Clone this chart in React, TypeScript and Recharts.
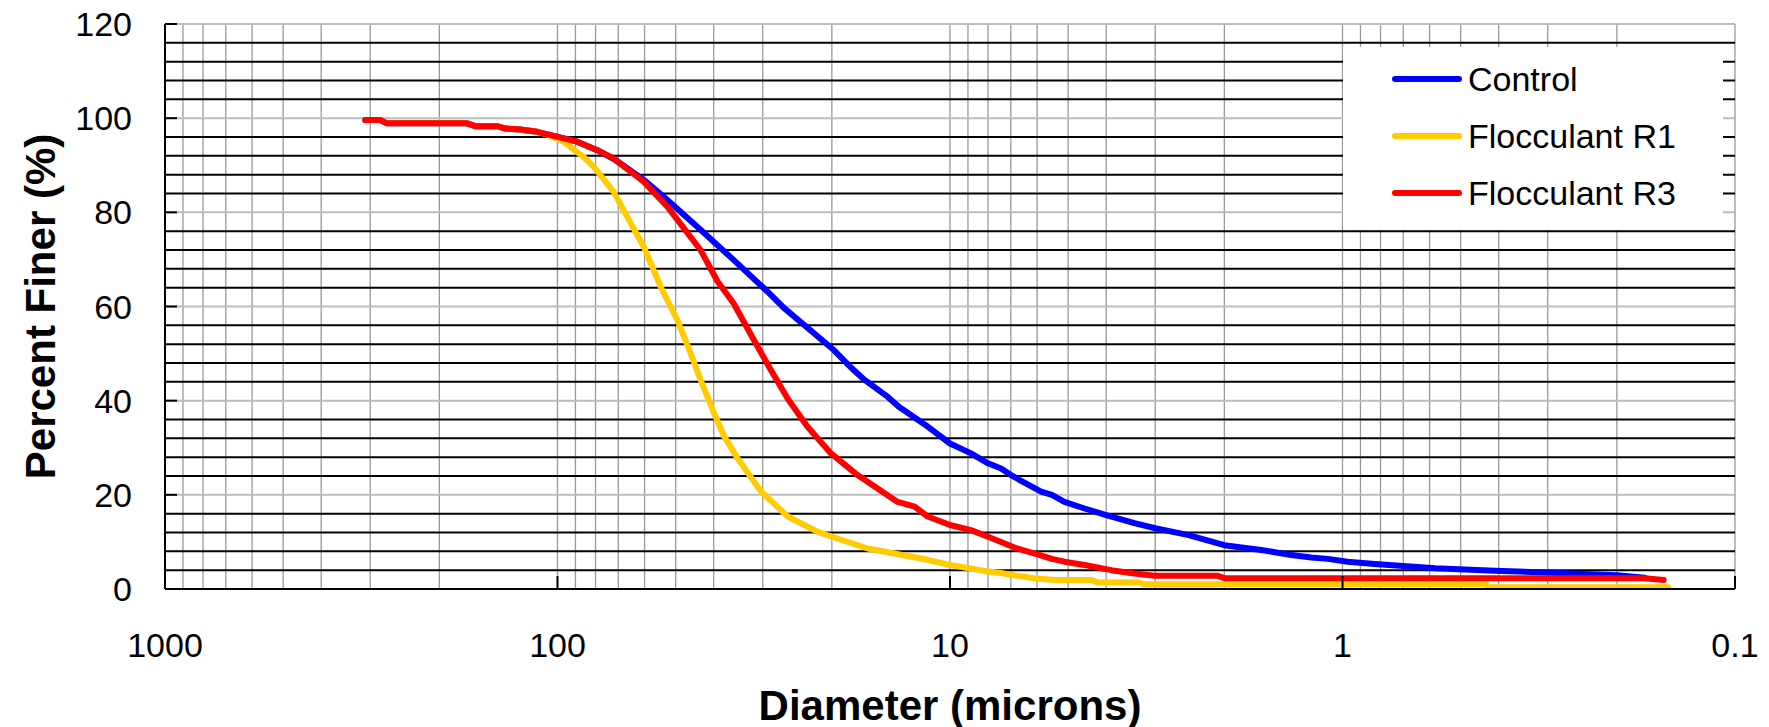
import { LineChart, Line, XAxis, YAxis, ReferenceLine, Legend } from "recharts";

const FONT = '"Liberation Sans", Arial, sans-serif';

const xTicks = [1000, 100, 10, 1, 0.1];
const yTicks = [0, 20, 40, 60, 80, 100, 120];
const decades = [100, 10, 1, 0.1];
const steps = [1, 2, 3, 4, 5, 6, 7, 8, 9];
const minorFiner = [4, 8, 12, 16, 24, 28, 32, 36, 44, 48, 52, 56, 64, 68, 72, 76, 84, 88, 92, 96, 104, 108, 112, 116];
const majorFiner = [20, 40, 60, 80, 100, 120];

const controlDiameter = [309, 283, 272, 170, 162, 142.5, 135.7, 124.3, 112.7, 104.2, 96.4, 89.1, 79.2, 71.1, 60.3, 53.6, 43.2, 35.6, 29.2, 26.5, 19.8, 17.6, 16.5, 14.4, 13.5, 11.4, 10, 8.84, 8.0, 7.41, 6.99, 6.66, 5.86, 5.5, 5.11, 4.54, 4.0, 3.39, 3.0, 2.48, 2.0, 1.61, 1.35, 1.2, 1.09, 0.97, 0.827, 0.7, 0.58, 0.409, 0.305, 0.2, 0.17];
const controlFiner = [99.6, 99.6, 98.9, 98.9, 98.3, 98.3, 97.8, 97.6, 97.1, 96.4, 95.7, 95.0, 93.2, 91.1, 86.9, 83.3, 76.3, 69.9, 63.2, 59.7, 50.8, 46.5, 44.4, 40.8, 38.7, 34.5, 30.9, 28.8, 26.7, 25.6, 24.2, 23.2, 20.7, 20.0, 18.5, 17.1, 15.7, 14.0, 12.9, 11.5, 9.3, 8.3, 7.2, 6.7, 6.4, 5.8, 5.3, 4.9, 4.4, 3.9, 3.5, 2.9, 2.4];

const r1Diameter = [309, 283, 272, 170, 162, 142.5, 135.7, 124.3, 112.7, 106, 96.4, 91.7, 85.9, 80.9, 72, 65.1, 60.3, 54.6, 49.5, 45.8, 43.2, 39.9, 37.6, 34.8, 30.3, 25.9, 21.8, 20.0, 16.2, 11.4, 10, 8.0, 7.41, 6.85, 6.1, 5.42, 4.37, 4.2, 3.32, 3.19, 0.43, 0.425, 0.148];
const r1Finer = [99.6, 99.6, 98.9, 98.9, 98.3, 98.3, 97.8, 97.6, 97.1, 96.5, 95.0, 93.6, 91.8, 89.7, 84.4, 77.7, 72.7, 64.2, 57.1, 50.1, 44.4, 37.3, 32.4, 27.8, 20.7, 15.4, 12.2, 11.1, 8.6, 6.2, 5.1, 3.7, 3.4, 2.9, 2.3, 1.9, 1.9, 1.4, 1.4, 1.0, 1.0, 0.35, 0.35];

const r3Diameter = [309, 283, 272, 170, 162, 142.5, 135.7, 124.3, 112.7, 104.2, 96.4, 89.1, 79.2, 72.5, 60.3, 52.5, 43.2, 39.1, 35.6, 31.6, 28.6, 25.9, 23.1, 20.1, 17.2, 13.6, 12.3, 11.4, 10, 8.84, 8.0, 6.85, 5.9, 5.5, 5.11, 4.54, 3.88, 3.39, 3.01, 2.08, 2.0, 0.17, 0.152];
const r3Finer = [99.6, 99.6, 98.9, 98.9, 98.3, 98.3, 97.8, 97.6, 97.1, 96.4, 95.7, 95.0, 93.2, 91.6, 86.5, 81.2, 72.0, 65.3, 60.7, 52.9, 46.5, 40.4, 34.5, 28.8, 24.2, 18.5, 17.5, 15.4, 13.6, 12.5, 11.1, 8.8, 7.2, 6.4, 5.8, 5.1, 4.0, 3.3, 2.8, 2.8, 2.3, 2.3, 1.9];

const toPoints = (d: number[], v: number[]) => d.map((x, i) => ({ d: x, v: v[i] }));

const verticalGrid = decades.flatMap((dec) => steps.map((s) => +(s * dec).toPrecision(3)));

function LegendBox({ payload }: any) {
  return (
    <div style={{ paddingTop: 3, background: "#fff", width: 380, height: 180, fontFamily: FONT }}>
      {(payload || []).map((e: any) => (
        <div key={e.value} style={{ display: "flex", alignItems: "center", height: 57 }}>
          <span style={{ marginLeft: 49, width: 70, height: 6, borderRadius: 3, background: e.color }} />
          <span style={{ marginLeft: 6, fontSize: 34, color: "#000", lineHeight: 1 }}>{e.value}</span>
        </div>
      ))}
    </div>
  );
}

const YTitle = ({ viewBox }: any) => {
  const x = viewBox.x + 40;
  const y = viewBox.y + viewBox.height / 2;
  return (
    <text x={x} y={y} transform={`rotate(-90 ${x} ${y})`} textAnchor="middle" dominantBaseline="central"
      fontSize={42} fontWeight="bold" fontFamily={FONT} fill="#000">
      Percent Finer (%)
    </text>
  );
};

const XTitle = ({ viewBox }: any) => (
  <text x={viewBox.x + viewBox.width / 2} y={viewBox.y + 116} textAnchor="middle" dominantBaseline="central"
    fontSize={42} fontWeight="bold" fontFamily={FONT} fill="#000">
    Diameter (microns)
  </text>
);

export default function App() {
  const tick = { fontSize: 34, fill: "#000", fontFamily: FONT };
  return (
    <div style={{ position: "absolute", left: 0, top: 0, background: "#fff" }}>
      <LineChart width={1769} height={727} margin={{ top: 24, right: 34, bottom: 0, left: 0 }}>
        <XAxis type="number" dataKey="d" scale="log" domain={[0.1, 1000]} allowDataOverflow reversed
          ticks={xTicks} interval={0} tick={tick} tickSize={-13} tickMargin={57} height={138}
          axisLine={{ stroke: "#000", strokeWidth: 2 }} tickLine={{ stroke: "#000", strokeWidth: 2 }}
          label={{ content: XTitle }} />
        <YAxis type="number" domain={[0, 120]} ticks={yTicks} interval={0} tick={tick} width={165}
          tickSize={-12} tickMargin={45} allowDataOverflow
          axisLine={{ stroke: "#000", strokeWidth: 2 }} tickLine={{ stroke: "#000", strokeWidth: 2 }}
          label={{ content: YTitle }} />
        {verticalGrid.map((d) => (
          <ReferenceLine key={`vx${d}`} x={d} stroke="#999" strokeWidth={1.3} ifOverflow="visible" />
        ))}
        {majorFiner.map((v) => (
          <ReferenceLine key={`gy${v}`} y={v} stroke="#bdbdbd" strokeWidth={2} ifOverflow="visible" />
        ))}
        {minorFiner.map((v) => (
          <ReferenceLine key={`by${v}`} y={v} stroke="#000" strokeWidth={2} />
        ))}
        <Legend layout="vertical" align="center" verticalAlign="middle" content={LegendBox}
          wrapperStyle={{ left: 1343, top: 47, width: 380, height: 180 }} />
        <Line data={toPoints(controlDiameter, controlFiner)} dataKey="v" name="Control" stroke="#0000ff"
          strokeWidth={6} dot={false} type="linear" strokeLinecap="round" strokeLinejoin="round" isAnimationActive={false} />
        <Line data={toPoints(r1Diameter, r1Finer)} dataKey="v" name="Flocculant R1" stroke="#ffcc00"
          strokeWidth={6} dot={false} type="linear" strokeLinecap="round" strokeLinejoin="round" isAnimationActive={false} />
        <Line data={toPoints(r3Diameter, r3Finer)} dataKey="v" name="Flocculant R3" stroke="#ff0000"
          strokeWidth={6} dot={false} type="linear" strokeLinecap="round" strokeLinejoin="round" isAnimationActive={false} />
      </LineChart>
    </div>
  );
}
